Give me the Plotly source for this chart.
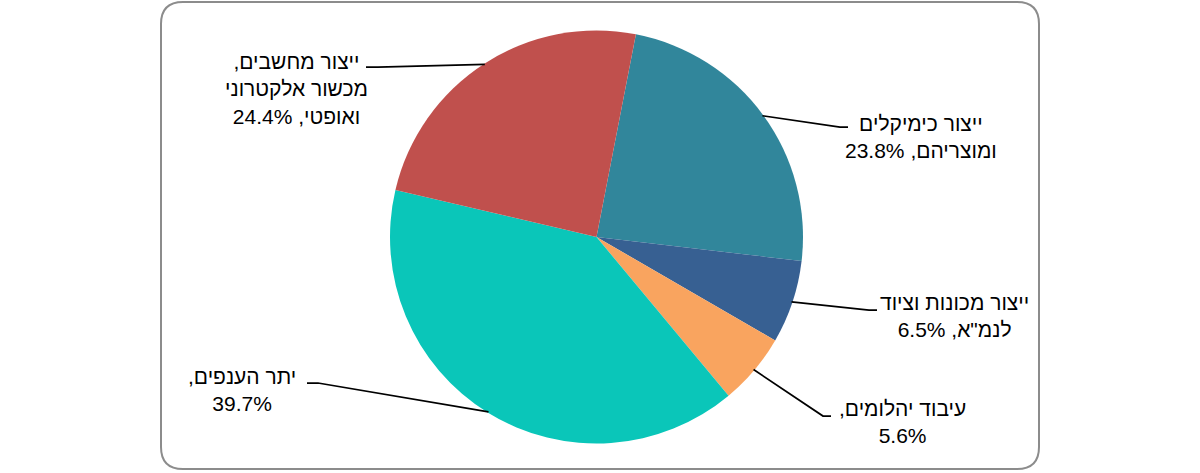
import math
import plotly.graph_objects as go

# ---- data ----
categories = [
    "ייצור כימיקלים<br>ומוצריהם",
    "ייצור מכונות וציוד<br>לנמ\"א",
    "עיבוד יהלומים",
    "יתר הענפים",
    "ייצור מחשבים,<br>מכשור אלקטרוני<br>ואופטי",
]
values = [23.8, 6.5, 5.6, 39.7, 24.4]
separators = [", ", ", ", ",<br>", ",<br>", ", "]
colors = ["#31869B", "#376092", "#F9A45F", "#0AC6B9", "#C0504D"]

# ---- layout constants (pixels) ----
W, H = 1200, 473
cx, cy, R = 596.5, 237, 206.5
rotation = 11
# label text centres and leader-line elbow / end points
label_pos = [(921, 137), (955, 316), (903, 422), (242, 390), (296, 89)]
elbow_pos = [(840, 127), (869, 310), (823, 416), (318, 383), (378, 67)]
end_pos = [(848, 127), (877, 310), (831, 416), (307, 383), (366, 67)]


def px(x, y):
    return x / W, 1 - y / H


def rtl(line):
    return "\u200f" + line + "\u200f"


fig = go.Figure()
x0, y1 = px(cx - R, cy - R)
x1, y0 = px(cx + R, cy + R)
fig.add_trace(go.Pie(
    labels=[c.replace("<br>", " ") for c in categories],
    values=values,
    sort=False,
    direction="clockwise",
    rotation=rotation,
    marker=dict(colors=colors, line=dict(width=0)),
    textinfo="none",
    hoverinfo="label+percent",
    domain=dict(x=[x0, x1], y=[y0, y1]),
    showlegend=False,
))

shapes = []
annotations = []
total = sum(values)
cum = 0.0
for i, v in enumerate(values):
    mid = rotation + (cum + v / 2) / total * 360
    cum += v
    a = math.radians(mid)
    sx = cx + (R - 1) * math.sin(a)
    sy = cy - (R - 1) * math.cos(a)
    p0 = px(sx, sy)
    p1 = px(*elbow_pos[i])
    p2 = px(*end_pos[i])
    shapes.append(dict(
        type="path", xref="paper", yref="paper",
        path=f"M {p0[0]},{p0[1]} L {p1[0]},{p1[1]} L {p2[0]},{p2[1]}",
        line=dict(color="black", width=1.75),
    ))
    text = categories[i] + separators[i] + f"{v}%"
    text = "<br>".join(rtl(t) for t in text.split("<br>"))
    lx, ly = px(*label_pos[i])
    annotations.append(dict(
        x=lx, y=ly, xref="paper", yref="paper", text=text,
        showarrow=False, xanchor="center", yanchor="middle", align="center",
        font=dict(family="Liberation Sans, Arial, sans-serif", size=21, color="black"),
    ))

# rounded frame
fx0, fy0, fx1, fy1, r = 161, 2, 1039, 469, 22
rx, ry = r / W, r / H
a0, b1 = px(fx0, fy0)
a1, b0 = px(fx1, fy1)
frame = (f"M {a0+rx},{b1} L {a1-rx},{b1} Q {a1},{b1} {a1},{b1-ry} "
         f"L {a1},{b0+ry} Q {a1},{b0} {a1-rx},{b0} "
         f"L {a0+rx},{b0} Q {a0},{b0} {a0},{b0+ry} "
         f"L {a0},{b1-ry} Q {a0},{b1} {a0+rx},{b1} Z")
shapes.append(dict(type="path", xref="paper", yref="paper", path=frame,
                   line=dict(color="#8C8C8C", width=2), layer="below"))

fig.update_layout(
    width=W, height=H,
    margin=dict(l=0, r=0, t=0, b=0),
    paper_bgcolor="white", plot_bgcolor="white",
    shapes=shapes, annotations=annotations,
)
fig.write_html("out.html",
               config={"displayModeBar": False},
               post_script="document.body.style.margin='0';document.body.style.padding='0';")
